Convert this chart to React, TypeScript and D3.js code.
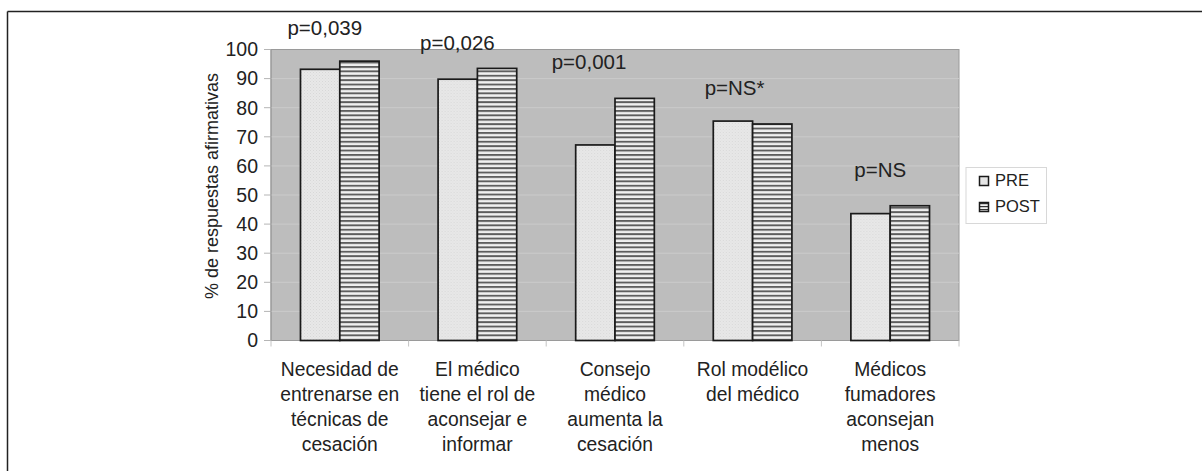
import React from "react";
import * as d3 from "d3";

const categoryLines: string[][] = [
  ["Necesidad de", "entrenarse en", "técnicas de", "cesación"],
  ["El médico", "tiene el rol de", "aconsejar e", "informar"],
  ["Consejo", "médico", "aumenta la", "cesación"],
  ["Rol modélico", "del médico"],
  ["Médicos", "fumadores", "aconsejan", "menos"],
];
const categories = categoryLines.map((l) => l.join(" "));
const seriesNames = ["PRE", "POST"];
const preValues = [93.2, 89.8, 67.2, 75.4, 43.6];
const postValues = [96.0, 93.5, 83.2, 74.4, 46.3];
const pLabels = ["p=0,039", "p=0,026", "p=0,001", "p=NS*", "p=NS"];
const yTicks = [0, 10, 20, 30, 40, 50, 60, 70, 80, 90, 100];

// layout of the p-value annotations: [x offset from group centre (px), baseline in value units]
const pLabelLayout: [number, number][] = [
  [-15, 105],
  [-20, 99.8],
  [-26, 93.3],
  [-18, 84.4],
  [-10, 56.2],
];

const W = 1202;
const H = 471;
const plot = { left: 271, right: 959, top: 49.5, bottom: 340.5 };
const FONT = "'Liberation Sans', Arial, sans-serif";

export default function App() {
  const x0 = d3
    .scaleBand<string>()
    .domain(categories)
    .range([plot.left, plot.right])
    .paddingInner(0)
    .paddingOuter(0);
  const bw = x0.bandwidth();
  const barW = bw / 3.5;
  const x1 = d3
    .scaleBand<string>()
    .domain(seriesNames)
    .range([(bw - 2 * barW) / 2, (bw + 2 * barW) / 2])
    .padding(0);
  const y = d3.scaleLinear().domain([0, 100]).range([plot.bottom, plot.top]);

  const series = [preValues, postValues];
  const fills = ["url(#prePat)", "url(#postPat)"];

  return (
    <svg
      width={W}
      height={H}
      style={{ position: "absolute", left: 0, top: 0, background: "#fff" }}
      fontFamily={FONT}
    >
      <defs>
        <pattern id="prePat" patternUnits="userSpaceOnUse" width={3} height={3}>
          <rect width={3} height={3} fill="#e8e8e8" />
          <rect x={0} y={0} width={1} height={1} fill="#d8d8d8" />
          <rect x={1.5} y={1.5} width={1} height={1} fill="#dedede" />
        </pattern>
        <pattern id="postPat" patternUnits="userSpaceOnUse" width={8} height={4.4}>
          <rect width={8} height={4.4} fill="#f0f0f0" />
          <rect x={0} y={0} width={8} height={1.9} fill="#5e5e5e" />
        </pattern>
        <pattern id="prePatL" patternUnits="userSpaceOnUse" width={3} height={3}>
          <rect width={3} height={3} fill="#e6e6e6" />
        </pattern>
        <pattern id="postPatL" patternUnits="userSpaceOnUse" width={8} height={3}>
          <rect width={8} height={3} fill="#f0f0f0" />
          <rect x={0} y={1} width={8} height={1.2} fill="#333" />
        </pattern>
      </defs>

      {/* outer frame (top + left) */}
      <line x1={7.5} y1={11.5} x2={W} y2={11.5} stroke="#222" strokeWidth={1.5} />
      <line x1={7.5} y1={11.5} x2={7.5} y2={H} stroke="#222" strokeWidth={1.5} />

      {/* plot background */}
      <rect
        x={plot.left}
        y={plot.top}
        width={plot.right - plot.left}
        height={plot.bottom - plot.top}
        fill="#bdbdbd"
        stroke="#9a9a9a"
        strokeWidth={1}
      />

      {/* grid lines + y ticks */}
      {yTicks.map((t) => (
        <g key={t}>
          {t > 0 && t < 100 && (
            <line
              x1={plot.left}
              x2={plot.right}
              y1={y(t)}
              y2={y(t)}
              stroke="#cbcbcb"
              strokeWidth={1}
            />
          )}
          <line
            x1={plot.left - 7}
            x2={plot.left}
            y1={y(t)}
            y2={y(t)}
            stroke="#b5b5b5"
            strokeWidth={1}
          />
          <text
            x={plot.left - 13}
            y={y(t)}
            dy="0.35em"
            textAnchor="end"
            fontSize={19.5}
            fill="#222"
          >
            {t}
          </text>
        </g>
      ))}

      {/* axis lines */}
      <line x1={plot.left} x2={plot.left} y1={plot.top} y2={plot.bottom} stroke="#9a9a9a" />
      <line x1={plot.left} x2={plot.right} y1={plot.bottom} y2={plot.bottom} stroke="#9a9a9a" />
      {categories.map((c, i) => (
        <line
          key={"tk" + i}
          x1={x0(c)!}
          x2={x0(c)!}
          y1={plot.bottom}
          y2={plot.bottom + 6}
          stroke="#c4c4c4"
        />
      ))}
      <line
        x1={plot.right}
        x2={plot.right}
        y1={plot.bottom}
        y2={plot.bottom + 6}
        stroke="#c4c4c4"
      />

      {/* bars */}
      {categories.map((c, i) => (
        <g key={c} transform={`translate(${x0(c)},0)`}>
          {series.map((vals, s) => (
            <rect
              key={s}
              x={x1(seriesNames[s])!}
              y={y(vals[i])}
              width={x1.bandwidth()}
              height={plot.bottom - y(vals[i])}
              fill={fills[s]}
              stroke="#1a1a1a"
              strokeWidth={1.7}
            />
          ))}
        </g>
      ))}

      {/* p-value labels */}
      {categories.map((c, i) => (
        <text
          key={"p" + i}
          x={x0(c)! + bw / 2 + pLabelLayout[i][0]}
          y={y(pLabelLayout[i][1])}
          textAnchor="middle"
          fontSize={20.5}
          fill="#222"
        >
          {pLabels[i]}
        </text>
      ))}

      {/* category labels */}
      {categories.map((c, i) => (
        <text
          key={"c" + i}
          textAnchor="middle"
          fontSize={19.3}
          fill="#222"
        >
          {categoryLines[i].map((line, k) => (
            <tspan key={k} x={x0(c)! + bw / 2} y={376 + k * 25}>
              {line}
            </tspan>
          ))}
        </text>
      ))}

      {/* y axis title */}
      <text
        transform={`translate(218,${186}) rotate(-90)`}
        textAnchor="middle"
        fontSize={18}
        fill="#222"
      >
        % de respuestas afirmativas
      </text>

      {/* legend */}
      <g>
        <rect x={966} y={167.5} width={80.5} height={56} fill="#fff" stroke="#d8d8d8" />
        {seriesNames.map((n, s) => (
          <g key={n} transform={`translate(979,${176 + s * 26})`}>
            <rect
              x={0.5}
              y={0.5}
              width={9}
              height={9}
              fill={s === 0 ? "url(#prePatL)" : "url(#postPatL)"}
              stroke="#1a1a1a"
              strokeWidth={1.5}
            />
            <text x={16} y={10} fontSize={16.5} fill="#222">
              {n}
            </text>
          </g>
        ))}
      </g>
    </svg>
  );
}
